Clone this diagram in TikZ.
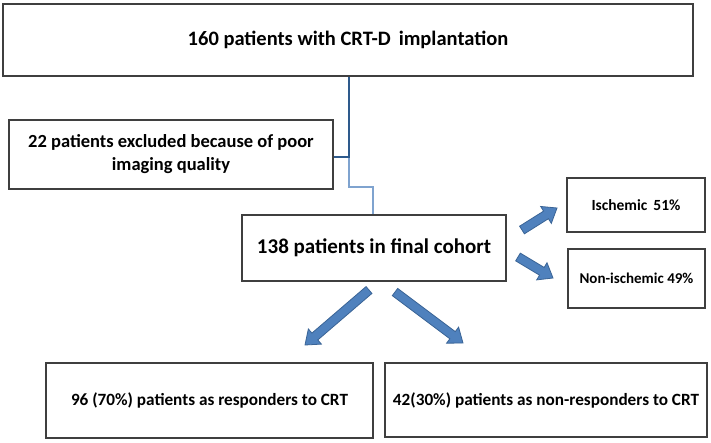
\documentclass[tikz,border=0pt]{standalone}
\usepackage{fontspec}
\setmainfont{Carlito}
\usetikzlibrary{calc}
\definecolor{boxline}{HTML}{3F3F3F}
\definecolor{arrfill}{HTML}{4F81BD}
\definecolor{arrline}{HTML}{3A6496}
\definecolor{darkconn}{HTML}{2E5A8C}
\definecolor{lightconn}{HTML}{7FA3CF}
\newcommand\blockarr[2]{%
  \filldraw[fill=arrfill,draw=arrline,line width=0.8pt,line join=miter]
    let \p1=($(#2)-(#1)$), \n1={atan2(\y1,\x1)}, \n2={veclen(\x1,\y1)} in
    ([shift={(#1)},rotate=\n1]0,4.5) -- ([shift={(#1)},rotate=\n1]\n2-13,4.5)
    -- ([shift={(#1)},rotate=\n1]\n2-13,10) -- ([shift={(#1)},rotate=\n1]\n2,0)
    -- ([shift={(#1)},rotate=\n1]\n2-13,-10) -- ([shift={(#1)},rotate=\n1]\n2-13,-4.5)
    -- ([shift={(#1)},rotate=\n1]0,-4.5) -- cycle;}
\begin{document}
\begin{tikzpicture}[x=1pt,y=-1pt,
  box/.style={draw=boxline,line width=1.5pt,fill=white,inner sep=0pt,align=center,font=\bfseries},
  darkline/.style={draw=darkconn,line width=1.6pt},
  lightline/.style={draw=lightconn,line width=1.6pt}]
\useasboundingbox (0,0) rectangle (711,442);
\fill[white] (0,0) rectangle (711,442);

\node[box,minimum width=690pt,minimum height=72pt,font=\bfseries\fontsize{20.5}{24}\selectfont] (top) at (348,40) {160 patients with CRT-D\, implantation};
\node[box,minimum width=324pt,minimum height=69pt,font=\bfseries\fontsize{18.5}{23}\selectfont] (excl) at (171,154.5) {22 patients excluded because of poor\\imaging quality};
\node[box,minimum width=264pt,minimum height=66pt,font=\bfseries\fontsize{21}{24}\selectfont] (final) at (374,248) {138 patients in final cohort};
\node[box,minimum width=138pt,minimum height=54pt,font=\bfseries\fontsize{15.5}{18}\selectfont] (isch) at (636,205) {Ischemic\, 51\%};
\node[box,minimum width=137pt,minimum height=59pt,font=\bfseries\fontsize{15}{18}\selectfont] (nonisch) at (636.5,278.5) {Non-ischemic 49\%};
\node[box,minimum width=327pt,minimum height=75pt,font=\bfseries\fontsize{17.2}{20}\selectfont] (resp) at (209.5,400.5) {96 (70\%) patients as responders to CRT};
\node[box,minimum width=322pt,minimum height=74pt,font=\bfseries\fontsize{17.2}{20}\selectfont] (nonresp) at (546,400) {42(30\%) patients as non-responders to CRT};

\coordinate (j1) at (349,157);
\coordinate (j2) at (349,187);
\coordinate (j3) at (373,187);
\draw[lightline] (j1) -- (j2) -- (j3) -- (j3 |- final.north);
\draw[darkline] (top.south -| j1) -- (j1) -- (j1 -| excl.east);

\coordinate (aT) at (522,230); \coordinate (aH) at (557,208);
\coordinate (bT) at (518,257); \coordinate (bH) at (553,278);
\coordinate (cT) at (369,290); \coordinate (cH) at (305,345);
\coordinate (dT) at (395,292); \coordinate (dH) at (463,343);
\blockarr{aT}{aH}
\blockarr{bT}{bH}
\blockarr{cT}{cH}
\blockarr{dT}{dH}
\end{tikzpicture}
\end{document}
